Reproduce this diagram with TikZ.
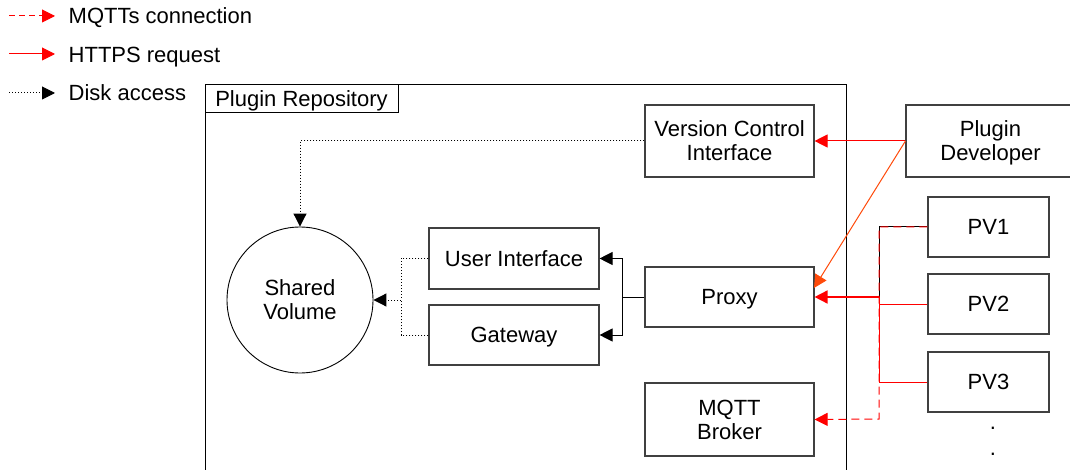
\documentclass[tikz,border=0pt]{standalone}
\usepackage{fontspec}
\setmainfont{Liberation Sans}
\usetikzlibrary{arrows.meta}
\definecolor{hotline}{HTML}{FF0000}
\definecolor{devline}{HTML}{FF4A0A}
\definecolor{edge}{HTML}{404040}
\begin{document}
\begin{tikzpicture}[x=1pt,y=-1pt,
  lbl/.style={font=\fontsize{22}{24}\selectfont, inner sep=0pt},
  box/.style={draw=edge, line width=1.1pt, rectangle, inner sep=0pt, align=center,
              text depth=0pt, font=\fontsize{22}{24}\selectfont},
  tip/.style={-{Triangle[length=13pt,width=13pt]}},
  https/.style={draw=hotline, line width=1pt, tip, hotline},
  mqtts/.style={https, dash pattern=on 8pt off 5pt},
  disk/.style={draw=black, line width=1pt, dotted, tip},
  wire/.style={draw=black, line width=1pt}]
\useasboundingbox (0,0) rectangle (1070,470);

% legend
\coordinate (l1a) at (9,16);   \coordinate (l1b) at (55,16);
\coordinate (l2a) at (9,54);   \coordinate (l2b) at (55,54);
\coordinate (l3a) at (9,93);   \coordinate (l3b) at (55,93);
\draw[https, dash pattern=on 6pt off 4pt] (l1a) -- (l1b);
\draw[https] (l2a) -- (l2b);
\draw[disk] (l3a) -- (l3b);
\node[lbl, anchor=base west] (t1) at (68.5,23.5) {MQTTs connection};
\node[lbl, anchor=base west] (t2) at (68.5,62.3) {HTTPS request};
\node[lbl, anchor=base west] (t3) at (68.5,100.7) {Disk access};

% repository frame
\draw[line width=1pt] (205,470) -- (205,85) -- (846,85) -- (846,470);
\node[box, draw=black, line width=1pt, minimum width=193pt, minimum height=28pt] (repo) at (301.5,99) {Plugin Repository};

% components
\node[box, minimum width=169pt, minimum height=72pt] (vci) at (729.5,141) {Version Control\\Interface};
\node[box, minimum width=169pt, minimum height=72pt] (dev) at (990.5,141) {Plugin\\Developer};
\node[box, minimum width=121pt, minimum height=60pt] (pv1) at (988.5,227) {PV1};
\node[box, minimum width=121pt, minimum height=60pt] (pv2) at (988.5,304) {PV2};
\node[box, minimum width=121pt, minimum height=60pt] (pv3) at (988.5,382) {PV3};
\node[lbl, align=center, font=\fontsize{22}{26}\selectfont, anchor=north] (more) at (993,427) {.\\.};
\node[box, minimum width=169pt, minimum height=60pt] (proxy) at (729.5,297) {Proxy};
\node[box, minimum width=169pt, minimum height=73pt] (mqtt) at (729.5,419.5) {MQTT\\Broker};
\node[box, minimum width=170pt, minimum height=61pt] (ui) at (514,258.5) {User Interface};
\node[box, minimum width=170pt, minimum height=60pt] (gw) at (514,335) {Gateway};
\node[circle, draw=black, line width=0.9pt, minimum size=146pt, inner sep=0pt, align=center,
      text depth=0pt, font=\fontsize{22}{24}\selectfont] (sv) at (300,300) {Shared\\Volume};

% junction points
\coordinate (dj) at (401,300);
\coordinate (pj) at (622,297);
\coordinate (vj) at (879,297);
\coordinate (mj) at (879,419);
\coordinate (pxo) at (814,288);

% disk access
\draw[disk] (vci.west) -| (sv.north);
\draw[wire, dotted] (ui.west) -| (dj);
\draw[wire, dotted] (gw.west) -| (dj);
\draw[disk] (dj) -- (sv.east);

% proxy fan-out
\draw[wire] (proxy.west) -- (pj);
\draw[wire, tip] (pj) |- (ui.east);
\draw[wire, tip] (pj) |- (gw.east);

% developer requests
\draw[https] (dev.west) -- (vci.east);
\draw[https, draw=devline, devline] (dev.west) -- (pxo);

% vehicle requests
\draw[wire] (pv1.west) -| (vj);
\draw[draw=hotline, line width=1pt] (pv2.west) -| (vj);
\draw[draw=hotline, line width=1pt] (pv3.west) -| (vj);
\draw[https, line width=1.6pt] (vj) -- (proxy.east);
\draw[mqtts] (pv1.west) -| (mj) -- (mqtt.east);
\end{tikzpicture}
\end{document}
